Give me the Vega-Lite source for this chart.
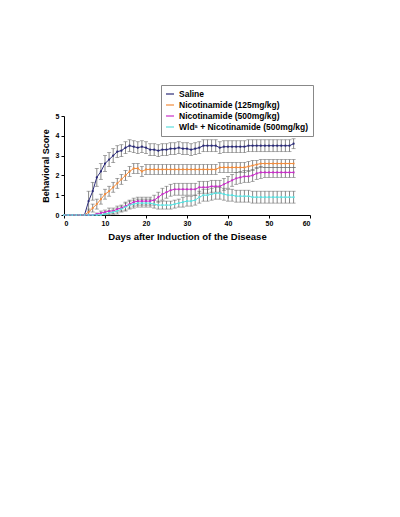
{
"$schema": "https://vega.github.io/schema/vega-lite/v6.json",
"width": 246, "height": 99,
"autosize": "none",
"padding": {"left": 64, "top": 116, "right": 90, "bottom": 302},
"background": "white",
"config": {"view": {"stroke": null}, "font": "Liberation Sans",
 "axis": {"grid": false, "domainColor": "#000", "tickColor": "#000", "tickSize": 3, "labelFontSize": 7, "labelFontWeight": "bold", "labelColor": "#000", "titleFontSize": 9.5, "titleFontWeight": "bold", "titleColor": "#000"}},
"datasets": {"pts": [
{"d":0,"g":"a","m":0,"e":0},{"d":1,"g":"a","m":0,"e":0},{"d":2,"g":"a","m":0,"e":0},{"d":3,"g":"a","m":0,"e":0},{"d":4,"g":"a","m":0,"e":0},{"d":5,"g":"a","m":0,"e":0},
{"d":6,"g":"a","m":0.7,"e":0.5},{"d":7,"g":"a","m":1.2,"e":0.45},{"d":8,"g":"a","m":1.9,"e":0.45},{"d":9,"g":"a","m":2.2,"e":0.4},{"d":10,"g":"a","m":2.6,"e":0.4},
{"d":11,"g":"a","m":2.8,"e":0.35},{"d":12,"g":"a","m":3.0,"e":0.35},{"d":13,"g":"a","m":3.2,"e":0.3},{"d":14,"g":"a","m":3.25,"e":0.3},{"d":15,"g":"a","m":3.4,"e":0.3},
{"d":16,"g":"a","m":3.5,"e":0.3},{"d":17,"g":"a","m":3.45,"e":0.3},{"d":18,"g":"a","m":3.4,"e":0.3},{"d":19,"g":"a","m":3.45,"e":0.3},{"d":20,"g":"a","m":3.4,"e":0.3},
{"d":21,"g":"a","m":3.3,"e":0.3},{"d":22,"g":"a","m":3.3,"e":0.3},{"d":23,"g":"a","m":3.25,"e":0.3},{"d":24,"g":"a","m":3.3,"e":0.3},{"d":25,"g":"a","m":3.3,"e":0.3},
{"d":26,"g":"a","m":3.35,"e":0.3},{"d":27,"g":"a","m":3.35,"e":0.3},{"d":28,"g":"a","m":3.4,"e":0.3},{"d":29,"g":"a","m":3.35,"e":0.3},{"d":30,"g":"a","m":3.35,"e":0.3},
{"d":31,"g":"a","m":3.3,"e":0.3},{"d":32,"g":"a","m":3.35,"e":0.3},{"d":33,"g":"a","m":3.4,"e":0.3},{"d":34,"g":"a","m":3.5,"e":0.3},{"d":35,"g":"a","m":3.5,"e":0.3},
{"d":36,"g":"a","m":3.5,"e":0.3},{"d":37,"g":"a","m":3.5,"e":0.3},{"d":38,"g":"a","m":3.4,"e":0.3},{"d":39,"g":"a","m":3.45,"e":0.3},{"d":40,"g":"a","m":3.45,"e":0.3},
{"d":41,"g":"a","m":3.45,"e":0.3},{"d":42,"g":"a","m":3.45,"e":0.3},{"d":43,"g":"a","m":3.45,"e":0.3},{"d":44,"g":"a","m":3.45,"e":0.3},{"d":45,"g":"a","m":3.5,"e":0.3},
{"d":46,"g":"a","m":3.5,"e":0.3},{"d":47,"g":"a","m":3.5,"e":0.3},{"d":48,"g":"a","m":3.5,"e":0.3},{"d":49,"g":"a","m":3.5,"e":0.3},{"d":50,"g":"a","m":3.5,"e":0.3},
{"d":51,"g":"a","m":3.5,"e":0.3},{"d":52,"g":"a","m":3.5,"e":0.3},{"d":53,"g":"a","m":3.5,"e":0.3},{"d":54,"g":"a","m":3.5,"e":0.3},{"d":55,"g":"a","m":3.5,"e":0.3},{"d":56,"g":"a","m":3.6,"e":0.25},

{"d":0,"g":"b","m":0,"e":0},{"d":1,"g":"b","m":0,"e":0},{"d":2,"g":"b","m":0,"e":0},{"d":3,"g":"b","m":0,"e":0},{"d":4,"g":"b","m":0,"e":0},{"d":5,"g":"b","m":0,"e":0},
{"d":6,"g":"b","m":0.15,"e":0.15},{"d":7,"g":"b","m":0.35,"e":0.2},{"d":8,"g":"b","m":0.55,"e":0.25},{"d":9,"g":"b","m":0.8,"e":0.25},{"d":10,"g":"b","m":1.05,"e":0.25},
{"d":11,"g":"b","m":1.2,"e":0.25},{"d":12,"g":"b","m":1.4,"e":0.25},{"d":13,"g":"b","m":1.6,"e":0.25},{"d":14,"g":"b","m":1.8,"e":0.25},{"d":15,"g":"b","m":2.0,"e":0.25},
{"d":16,"g":"b","m":2.2,"e":0.25},{"d":17,"g":"b","m":2.35,"e":0.25},{"d":18,"g":"b","m":2.35,"e":0.25},{"d":19,"g":"b","m":2.2,"e":0.25},{"d":20,"g":"b","m":2.3,"e":0.25},
{"d":21,"g":"b","m":2.3,"e":0.25},{"d":22,"g":"b","m":2.3,"e":0.25},{"d":23,"g":"b","m":2.3,"e":0.25},{"d":24,"g":"b","m":2.3,"e":0.25},{"d":25,"g":"b","m":2.3,"e":0.25},
{"d":26,"g":"b","m":2.3,"e":0.25},{"d":27,"g":"b","m":2.3,"e":0.25},{"d":28,"g":"b","m":2.3,"e":0.25},{"d":29,"g":"b","m":2.3,"e":0.25},{"d":30,"g":"b","m":2.3,"e":0.25},
{"d":31,"g":"b","m":2.3,"e":0.25},{"d":32,"g":"b","m":2.3,"e":0.25},{"d":33,"g":"b","m":2.3,"e":0.25},{"d":34,"g":"b","m":2.3,"e":0.25},{"d":35,"g":"b","m":2.3,"e":0.25},
{"d":36,"g":"b","m":2.3,"e":0.25},{"d":37,"g":"b","m":2.3,"e":0.25},{"d":38,"g":"b","m":2.4,"e":0.25},{"d":39,"g":"b","m":2.4,"e":0.25},{"d":40,"g":"b","m":2.4,"e":0.25},
{"d":41,"g":"b","m":2.4,"e":0.25},{"d":42,"g":"b","m":2.4,"e":0.25},{"d":43,"g":"b","m":2.4,"e":0.25},{"d":44,"g":"b","m":2.4,"e":0.25},{"d":45,"g":"b","m":2.45,"e":0.25},
{"d":46,"g":"b","m":2.5,"e":0.25},{"d":47,"g":"b","m":2.55,"e":0.2},{"d":48,"g":"b","m":2.6,"e":0.2},{"d":49,"g":"b","m":2.6,"e":0.2},{"d":50,"g":"b","m":2.6,"e":0.2},
{"d":51,"g":"b","m":2.6,"e":0.2},{"d":52,"g":"b","m":2.6,"e":0.2},{"d":53,"g":"b","m":2.6,"e":0.2},{"d":54,"g":"b","m":2.6,"e":0.2},{"d":55,"g":"b","m":2.6,"e":0.2},{"d":56,"g":"b","m":2.6,"e":0.2},

{"d":0,"g":"c","m":0,"e":0},{"d":1,"g":"c","m":0,"e":0},{"d":2,"g":"c","m":0,"e":0},{"d":3,"g":"c","m":0,"e":0},{"d":4,"g":"c","m":0,"e":0},{"d":5,"g":"c","m":0,"e":0},
{"d":6,"g":"c","m":0,"e":0},{"d":7,"g":"c","m":0,"e":0},{"d":8,"g":"c","m":0.05,"e":0.05},{"d":9,"g":"c","m":0.1,"e":0.1},{"d":10,"g":"c","m":0.15,"e":0.1},
{"d":11,"g":"c","m":0.2,"e":0.15},{"d":12,"g":"c","m":0.2,"e":0.15},{"d":13,"g":"c","m":0.3,"e":0.15},{"d":14,"g":"c","m":0.35,"e":0.15},{"d":15,"g":"c","m":0.45,"e":0.2},
{"d":16,"g":"c","m":0.55,"e":0.2},{"d":17,"g":"c","m":0.65,"e":0.2},{"d":18,"g":"c","m":0.7,"e":0.2},{"d":19,"g":"c","m":0.7,"e":0.2},{"d":20,"g":"c","m":0.7,"e":0.2},
{"d":21,"g":"c","m":0.7,"e":0.2},{"d":22,"g":"c","m":0.75,"e":0.25},{"d":23,"g":"c","m":0.9,"e":0.25},{"d":24,"g":"c","m":1.05,"e":0.3},{"d":25,"g":"c","m":1.15,"e":0.3},
{"d":26,"g":"c","m":1.25,"e":0.3},{"d":27,"g":"c","m":1.3,"e":0.3},{"d":28,"g":"c","m":1.3,"e":0.3},{"d":29,"g":"c","m":1.3,"e":0.3},{"d":30,"g":"c","m":1.3,"e":0.3},
{"d":31,"g":"c","m":1.3,"e":0.3},{"d":32,"g":"c","m":1.3,"e":0.3},{"d":33,"g":"c","m":1.4,"e":0.3},{"d":34,"g":"c","m":1.4,"e":0.3},{"d":35,"g":"c","m":1.4,"e":0.3},
{"d":36,"g":"c","m":1.45,"e":0.3},{"d":37,"g":"c","m":1.45,"e":0.3},{"d":38,"g":"c","m":1.45,"e":0.3},{"d":39,"g":"c","m":1.55,"e":0.3},{"d":40,"g":"c","m":1.65,"e":0.3},
{"d":41,"g":"c","m":1.75,"e":0.3},{"d":42,"g":"c","m":1.85,"e":0.3},{"d":43,"g":"c","m":1.9,"e":0.3},{"d":44,"g":"c","m":1.95,"e":0.3},{"d":45,"g":"c","m":1.95,"e":0.3},
{"d":46,"g":"c","m":2.0,"e":0.3},{"d":47,"g":"c","m":2.1,"e":0.3},{"d":48,"g":"c","m":2.15,"e":0.3},{"d":49,"g":"c","m":2.15,"e":0.25},{"d":50,"g":"c","m":2.15,"e":0.25},
{"d":51,"g":"c","m":2.15,"e":0.25},{"d":52,"g":"c","m":2.15,"e":0.25},{"d":53,"g":"c","m":2.15,"e":0.25},{"d":54,"g":"c","m":2.15,"e":0.25},{"d":55,"g":"c","m":2.15,"e":0.25},{"d":56,"g":"c","m":2.15,"e":0.25},

{"d":0,"g":"w","m":0,"e":0},{"d":1,"g":"w","m":0,"e":0},{"d":2,"g":"w","m":0,"e":0},{"d":3,"g":"w","m":0,"e":0},{"d":4,"g":"w","m":0,"e":0},{"d":5,"g":"w","m":0,"e":0},
{"d":6,"g":"w","m":0,"e":0},{"d":7,"g":"w","m":0,"e":0},{"d":8,"g":"w","m":0,"e":0},{"d":9,"g":"w","m":0,"e":0},{"d":10,"g":"w","m":0.05,"e":0.05},
{"d":11,"g":"w","m":0.1,"e":0.1},{"d":12,"g":"w","m":0.15,"e":0.1},{"d":13,"g":"w","m":0.2,"e":0.15},{"d":14,"g":"w","m":0.3,"e":0.15},{"d":15,"g":"w","m":0.4,"e":0.2},
{"d":16,"g":"w","m":0.5,"e":0.2},{"d":17,"g":"w","m":0.55,"e":0.2},{"d":18,"g":"w","m":0.6,"e":0.2},{"d":19,"g":"w","m":0.6,"e":0.2},{"d":20,"g":"w","m":0.6,"e":0.2},
{"d":21,"g":"w","m":0.6,"e":0.2},{"d":22,"g":"w","m":0.55,"e":0.2},{"d":23,"g":"w","m":0.5,"e":0.2},{"d":24,"g":"w","m":0.5,"e":0.2},{"d":25,"g":"w","m":0.5,"e":0.2},
{"d":26,"g":"w","m":0.5,"e":0.2},{"d":27,"g":"w","m":0.55,"e":0.2},{"d":28,"g":"w","m":0.6,"e":0.2},{"d":29,"g":"w","m":0.65,"e":0.25},{"d":30,"g":"w","m":0.7,"e":0.25},
{"d":31,"g":"w","m":0.7,"e":0.25},{"d":32,"g":"w","m":0.75,"e":0.25},{"d":33,"g":"w","m":0.9,"e":0.3},{"d":34,"g":"w","m":1.0,"e":0.3},{"d":35,"g":"w","m":1.0,"e":0.3},
{"d":36,"g":"w","m":1.05,"e":0.3},{"d":37,"g":"w","m":1.1,"e":0.3},{"d":38,"g":"w","m":1.1,"e":0.3},{"d":39,"g":"w","m":1.05,"e":0.3},{"d":40,"g":"w","m":1.0,"e":0.3},
{"d":41,"g":"w","m":1.0,"e":0.3},{"d":42,"g":"w","m":0.95,"e":0.3},{"d":43,"g":"w","m":0.95,"e":0.3},{"d":44,"g":"w","m":0.95,"e":0.3},{"d":45,"g":"w","m":0.95,"e":0.3},
{"d":46,"g":"w","m":0.9,"e":0.3},{"d":47,"g":"w","m":0.9,"e":0.3},{"d":48,"g":"w","m":0.9,"e":0.3},{"d":49,"g":"w","m":0.9,"e":0.3},{"d":50,"g":"w","m":0.9,"e":0.3},
{"d":51,"g":"w","m":0.9,"e":0.3},{"d":52,"g":"w","m":0.9,"e":0.3},{"d":53,"g":"w","m":0.9,"e":0.3},{"d":54,"g":"w","m":0.9,"e":0.3},{"d":55,"g":"w","m":0.9,"e":0.3},{"d":56,"g":"w","m":0.9,"e":0.3}
]},
"data": {"name": "pts"},
"encoding": {
 "x": {"field": "d", "type": "quantitative", "scale": {"domain": [0, 60], "nice": false},
  "axis": {"values": [0,10,20,30,40,50,60], "title": "Days after Induction of the Disease", "titlePadding": 5, "labelPadding": 1}},
 "y": {"field": "m", "type": "quantitative", "scale": {"domain": [0, 5], "nice": false},
  "axis": {"values": [0,1,2,3,4,5], "title": "Behavioral Score", "titleFontSize": 9, "titlePadding": 5, "labelPadding": 2}}
},
"layer": [
 {"transform": [{"filter": "datum.e > 0"}],
  "mark": {"type": "errorbar", "ticks": {"size": 4}, "color": "#6a6a6a", "thickness": 0.8},
  "encoding": {"yError": {"field": "e"}}},
 {"mark": {"type": "line", "strokeWidth": 1, "point": {"size": 5, "filled": true}},
  "encoding": {
   "color": {"field": "g", "type": "nominal",
    "scale": {"domain": ["a","b","c","w"], "range": ["#2a2a78", "#f28c3c", "#c82fc8", "#5ddede"]},
    "legend": {"orient": "none", "legendX": 97, "legendY": -31, "title": null,
     "labelExpr": "{'a':'Saline','b':'Nicotinamide (125mg/kg)','c':'Nicotinamide (500mg/kg)','w':'Wldˢ + Nicotinamide (500mg/kg)'}[datum.value]",
     "labelFontSize": 8.5, "labelFontWeight": "bold", "labelColor": "#000", "symbolType": "stroke", "symbolSize": 64, "symbolStrokeWidth": 1.2,
     "strokeColor": "#888", "padding": 4, "rowPadding": 1, "labelOffset": 4, "fillColor": "white"}}
  }}
]
}
